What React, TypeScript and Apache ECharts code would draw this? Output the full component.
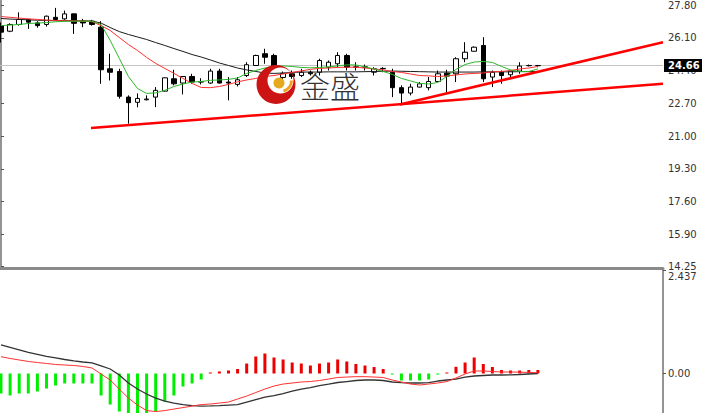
import React, { useEffect, useRef } from "react";
import * as echarts from "echarts";

// ---- candle data (index order, left to right) ----
const opens = [
  26.73, 26.44, 26.79, 27.05, 26.87, 26.79, 27.16, 27.08, 27.34, 26.96,
  26.96, 26.65, 24.49, 24.35, 23.02, 22.75, 22.88, 23.02, 23.33, 23.97,
  23.75, 24.09, 23.8, 23.75, 24.37, 23.8, 23.68, 24.14, 24.66, 25.27,
  25.18, 24.04, 24.23, 24.14, 24.31, 24.31, 24.57, 24.75, 25.18, 24.57,
  24.57, 24.31, 24.49, 24.31, 23.51, 23.23, 23.54, 23.51, 23.83, 24.26,
  24.23, 25.01, 25.4, 25.7, 24.06, 24.31, 24.18, 24.37, 24.65, 24.65,
];
const closes = [
  26.39, 26.79, 27.05, 26.91, 26.73, 27.22, 27.05, 27.34, 26.85, 26.87,
  26.79, 24.44, 24.31, 23.06, 22.73, 22.95, 22.92, 23.37, 24.02, 23.71,
  24.09, 23.8, 23.82, 24.37, 23.75, 23.75, 23.92, 24.7, 25.18, 25.09,
  24.57, 24.25, 24.09, 24.31, 24.23, 24.92, 24.83, 25.18, 24.57, 24.59,
  24.59, 24.49, 24.51, 23.51, 23.23, 23.54, 23.71, 23.83, 24.23, 24.11,
  25.01, 25.35, 25.61, 23.97, 24.31, 24.14, 24.37, 24.63, 24.66, 24.66,
];
const lows = [
  25.85, 26.39, 26.73, 26.56, 26.62, 26.68, 27.03, 27.03, 26.3, 26.65,
  26.73, 23.71, 23.88, 22.94, 21.64, 22.49, 22.85, 22.5, 23.31, 23.63,
  23.16, 23.71, 23.68, 23.71, 23.73, 22.85, 23.57, 24.06, 24.66, 24.75,
  24.51, 23.94, 23.97, 24.06, 24.14, 24.14, 24.4, 24.57, 24.4, 24.4,
  24.4, 24.14, 24.31, 23.02, 22.68, 23.11, 23.52, 23.37, 23.8, 23.2,
  23.8, 24.83, 25.39, 23.8, 23.54, 23.71, 23.97, 24.23, 24.61, 24.57,
];
const highs = [
  26.89, 26.85, 27.42, 27.08, 26.96, 27.25, 27.65, 27.51, 27.35, 27.08,
  27.03, 26.96, 25.27, 24.49, 23.11, 23.21, 23.11, 23.54, 24.04, 24.44,
  24.09, 24.23, 24.0, 24.49, 24.49, 24.06, 24.06, 24.83, 25.22, 25.53,
  25.27, 24.35, 24.4, 24.49, 24.4, 25.01, 24.92, 25.35, 25.27, 24.83,
  24.71, 24.57, 24.57, 24.49, 23.63, 23.71, 23.8, 24.06, 24.4, 24.44,
  25.09, 25.87, 25.65, 26.13, 24.4, 24.4, 24.4, 24.83, 24.71, 24.69,
];

// ---- moving averages ----
const maFast = [
  26.73, 26.76, 26.79, 26.84, 26.86, 26.89, 26.93, 26.95, 26.96, 26.96,
  26.96, 26.79, 25.96, 25.03, 24.09, 23.47, 23.21, 23.24, 23.37, 23.57,
  23.7, 23.8, 23.83, 23.89, 23.91, 23.94, 24.01, 24.25, 24.4, 24.53,
  24.61, 24.64, 24.61, 24.56, 24.54, 24.56, 24.59, 24.64, 24.69, 24.69,
  24.59, 24.48, 24.35, 24.2, 23.99, 23.86, 23.73, 23.7, 23.78, 24.09,
  24.46, 24.71, 24.84, 24.87, 24.82, 24.61, 24.43, 24.35, 24.35, 24.48,
];
const maMid = [
  27.2, 27.16, 27.12, 27.08, 27.05, 27.02, 26.99, 26.98, 26.97, 26.96,
  26.94, 26.73, 26.48, 26.11, 25.75, 25.44, 25.08, 24.77, 24.51, 24.25,
  23.99, 23.73, 23.52, 23.51, 23.57, 23.68, 23.81, 23.91, 23.99, 24.09,
  24.14, 24.22, 24.3, 24.38, 24.46, 24.51, 24.53, 24.56, 24.57, 24.57,
  24.53, 24.48, 24.43, 24.35, 24.3, 24.22, 24.14, 24.12, 24.09, 24.12,
  24.17, 24.22, 24.25, 24.27, 24.33, 24.35, 24.4, 24.48, 24.53, 24.61,
];
const maSlow = [
  27.1, 27.07, 27.05, 27.03, 27.01, 27.0, 26.99, 26.99, 26.98, 26.98,
  26.97, 26.86, 26.63, 26.42, 26.27, 26.14, 26.01, 25.85, 25.7, 25.54,
  25.39, 25.23, 25.1, 24.95, 24.79, 24.66, 24.53, 24.43, 24.35, 24.27,
  24.25, 24.27, 24.3, 24.32, 24.32, 24.32, 24.33, 24.33, 24.33, 24.33,
  24.34, 24.35, 24.36, 24.37, 24.36, 24.35, 24.34, 24.33, 24.32, 24.32,
  24.32, 24.32, 24.32, 24.33, 24.33, 24.33, 24.33, 24.34, 24.34, 24.35,
];

// ---- trend lines [index, price] ----
const trendLower = [[9.89, 21.41], [72.75, 23.71]];
const trendUpper = [[43.85, 22.64], [72.75, 25.87]];

const priceTicks = [14.25, 15.9, 17.6, 19.3, 21.0, 22.7, 24.4, 26.1, 27.8];
const lastPrice = 24.66;

// ---- MACD ----
const macdHist = [
  -0.471, -0.518, -0.471, -0.471, -0.424, -0.353, -0.283, -0.235, -0.235, -0.235,
  -0.235, -0.518, -0.73, -0.895, -0.989, -0.989, -0.942, -0.895, -0.659, -0.518,
  -0.306, -0.235, -0.141, 0.024, 0.047, 0.071, 0.106, 0.235, 0.4, 0.471,
  0.377, 0.33, 0.259, 0.235, 0.188, 0.235, 0.259, 0.33, 0.283, 0.224,
  0.188, 0.153, 0.106, -0.024, -0.165, -0.165, -0.165, -0.141, -0.024, 0.024,
  0.158, 0.259, 0.377, 0.224, 0.153, 0.082, 0.071, 0.071, 0.082, 0.082,
];
const macdMain = [
  0.672, 0.613, 0.554, 0.495, 0.448, 0.401, 0.366, 0.33, 0.295, 0.271,
  0.248, 0.177, 0.106, -0.035, -0.224, -0.366, -0.483, -0.578, -0.649, -0.696,
  -0.731, -0.755, -0.767, -0.762, -0.755, -0.743, -0.731, -0.672, -0.613, -0.554,
  -0.519, -0.472, -0.413, -0.366, -0.33, -0.283, -0.248, -0.212, -0.189, -0.165,
  -0.153, -0.153, -0.165, -0.2, -0.217, -0.224, -0.224, -0.217, -0.177, -0.153,
  -0.13, -0.083, -0.059, -0.047, -0.035, -0.035, -0.031, -0.024, -0.012, 0.0,
];
const macdSignal = [
  0.396, 0.354, 0.318, 0.283, 0.259, 0.236, 0.212, 0.2, 0.189, 0.165,
  0.13, -0.012, -0.153, -0.366, -0.578, -0.743, -0.873, -0.896, -0.873, -0.837,
  -0.802, -0.767, -0.731, -0.719, -0.696, -0.672, -0.601, -0.531, -0.448, -0.366,
  -0.295, -0.248, -0.224, -0.2, -0.189, -0.165, -0.13, -0.094, -0.083, -0.075,
  -0.075, -0.083, -0.094, -0.153, -0.2, -0.248, -0.271, -0.248, -0.224, -0.189,
  -0.106, -0.012, 0.059, 0.059, 0.047, 0.035, 0.035, 0.031, 0.024, 0.019,
];
const macdTicks = [0, 2.437];

const FONT = "DejaVu Sans";

const crescentPath =
  "M -19.5 0 A 19.5 19.5 0 1 0 19.5 0 A 19.5 19.5 0 1 0 -19.5 0 Z " +
  "M 17.5 -4 A 13 13 0 1 1 -8.5 -4 A 13 13 0 1 1 17.5 -4 Z";

let registered = false;
function ensureShape() {
  if (registered) return;
  echarts.graphic.registerShape("crescent", echarts.graphic.extendPath(crescentPath, {}) as any);
  registered = true;
}

export default function App() {
  const ref = useRef<HTMLDivElement>(null);

  useEffect(() => {
    if (!ref.current) return;
    ensureShape();
    const chart = echarts.init(ref.current, undefined, { renderer: "svg" });

    const xMin = -0.11;
    const xMax = 72.75;
    const pair = (arr: number[]) => arr.map((v, i) => [i, v]);

    const option: any = {
      animation: false,
      backgroundColor: "#ffffff",
      grid: [
        { left: 0, right: 39, top: 0, height: 268 },
        { left: 0, right: 39, top: 270, height: 143 },
      ],
      xAxis: [
        {
          type: "value",
          gridIndex: 0,
          min: xMin,
          max: xMax,
          axisLine: { show: true, onZero: false, lineStyle: { color: "#8a8a8a", width: 3 } },
          axisTick: { show: false },
          axisLabel: { show: false },
          splitLine: { show: false },
        },
        {
          type: "value",
          gridIndex: 1,
          min: xMin,
          max: xMax,
          show: false,
          splitLine: { show: false },
        },
      ],
      yAxis: [
        {
          type: "value",
          gridIndex: 0,
          position: "right",
          min: 14.15,
          max: 28.03,
          splitLine: { show: false },
          axisLine: { show: true, lineStyle: { color: "#707070", width: 1.5 } },
          axisTick: {
            show: true,
            length: 3,
            customValues: priceTicks,
            lineStyle: { color: "#555" },
          },
          axisLabel: {
            customValues: priceTicks,
            formatter: (v: number) => v.toFixed(2),
            margin: 5,
            color: "#333",
            fontSize: 10,
            fontFamily: FONT,
          },
        },
        {
          type: "value",
          gridIndex: 1,
          position: "right",
          min: -0.93,
          max: 2.437,
          splitLine: { show: false },
          axisLine: { show: true, onZero: false, lineStyle: { color: "#707070", width: 1.5 } },
          axisTick: {
            show: true,
            length: 3,
            customValues: macdTicks,
            lineStyle: { color: "#555" },
          },
          axisLabel: {
            customValues: macdTicks,
            formatter: (v: number) =>
              v === macdTicks[1] ? `{shift|${v.toFixed(3)}}` : v.toFixed(2),
            margin: 5,
            color: "#333",
            fontSize: 10,
            fontFamily: FONT,
            rich: {
              shift: { padding: [12, 0, 0, 0], color: "#333", fontSize: 10, fontFamily: FONT },
            },
          },
        },
      ],
      series: [
        {
          type: "candlestick",
          xAxisIndex: 0,
          yAxisIndex: 0,
          barWidth: 5,
          data: opens.map((o, i) => [i, o, closes[i], lows[i], highs[i]]),
          itemStyle: {
            color: "#ffffff",
            color0: "#000000",
            borderColor: "#000000",
            borderColor0: "#000000",
            borderWidth: 1,
          },
          markLine: {
            silent: true,
            symbol: ["none", "none"],
            z: 1,
            lineStyle: { color: "#c4c4c4", type: "solid", width: 1 },
            label: {
              show: true,
              position: "end",
              distance: 1,
              formatter: () => lastPrice.toFixed(2),
              backgroundColor: "#000000",
              color: "#ffffff",
              padding: [2, 4, 1, 4],
              fontSize: 10,
              fontWeight: "bold",
              fontFamily: FONT,
            },
            data: [{ yAxis: lastPrice }],
          },
        },
        {
          type: "line",
          xAxisIndex: 0,
          yAxisIndex: 0,
          data: pair(maSlow),
          showSymbol: false,
          lineStyle: { color: "#1a1a1a", width: 1 },
        },
        {
          type: "line",
          xAxisIndex: 0,
          yAxisIndex: 0,
          data: pair(maMid),
          showSymbol: false,
          lineStyle: { color: "#ff3030", width: 1 },
        },
        {
          type: "line",
          xAxisIndex: 0,
          yAxisIndex: 0,
          data: pair(maFast),
          showSymbol: false,
          lineStyle: { color: "#2cb82c", width: 1 },
        },
        {
          type: "line",
          xAxisIndex: 0,
          yAxisIndex: 0,
          data: trendLower,
          showSymbol: false,
          lineStyle: { color: "#ff0000", width: 2.5 },
        },
        {
          type: "line",
          xAxisIndex: 0,
          yAxisIndex: 0,
          data: trendUpper,
          showSymbol: false,
          lineStyle: { color: "#ff0000", width: 2.5 },
        },
        {
          type: "bar",
          xAxisIndex: 1,
          yAxisIndex: 1,
          barWidth: 3,
          data: pair(macdHist),
          itemStyle: {
            color: (p: any) => (p.value[1] >= 0 ? "#ee0000" : "#00ee00"),
          },
        },
        {
          type: "line",
          xAxisIndex: 1,
          yAxisIndex: 1,
          data: pair(macdMain),
          showSymbol: false,
          lineStyle: { color: "#333333", width: 1.3 },
        },
        {
          type: "line",
          xAxisIndex: 1,
          yAxisIndex: 1,
          data: pair(macdSignal),
          showSymbol: false,
          lineStyle: { color: "#ff3030", width: 1 },
        },
      ],
      graphic: [
        {
          type: "crescent",
          x: 276,
          y: 84.5,
          z: 100,
          style: { fill: "#cc1414" },
        },
        {
          type: "circle",
          z: 101,
          shape: { cx: 279, cy: 83, r: 5.5 },
          style: { fill: "#e6a91e" },
        },
        {
          type: "arc",
          z: 101,
          shape: { cx: 280.5, cy: 80.5, r: 11, startAngle: 0, endAngle: 1.3 },
          style: { stroke: "#efa321", lineWidth: 3, fill: null },
        },
        {
          type: "text",
          z: 101,
          x: 300,
          y: 70,
          style: {
            text: "金盛",
            fontSize: 30,
            fontWeight: 300,
            fontFamily: "Noto Sans CJK SC",
            fill: "#333333",
          },
        },
      ],
    };

    chart.setOption(option);
    return () => chart.dispose();
  }, []);

  return (
    <div
      ref={ref}
      style={{ position: "fixed", left: 0, top: 0, width: 702, height: 413, background: "#fff" }}
    />
  );
}
